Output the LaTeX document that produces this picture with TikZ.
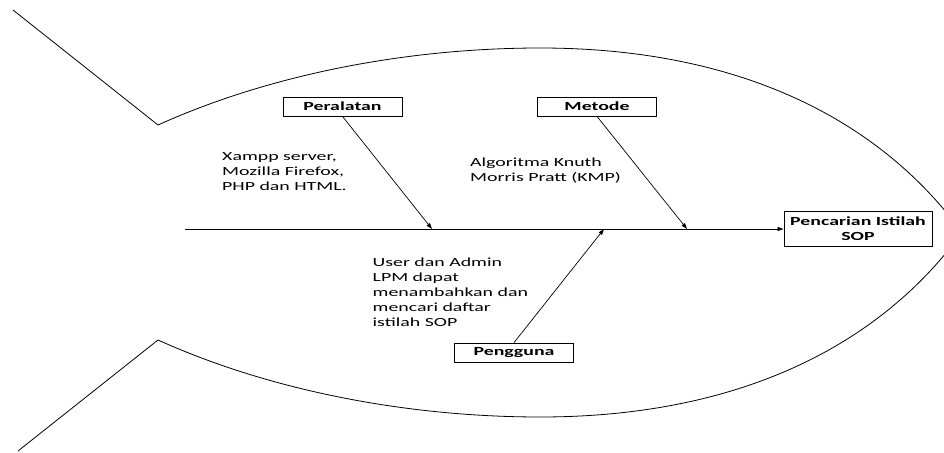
\documentclass[tikz,border=0pt]{standalone}
\usepackage{fontspec}
\setmainfont{Carlito}[FakeStretch=1.6]
\usetikzlibrary{arrows.meta}
\begin{document}
\begin{tikzpicture}[x=1pt,y=-1pt,
  every node/.style={font=\fontsize{12.4}{15}\selectfont},
  catbox/.style={draw, line width=0.8pt, minimum width=119pt, minimum height=19pt, inner sep=0pt, font=\fontsize{12.4}{15}\selectfont\bfseries},
  bone/.style={line width=0.7pt, -{Triangle[length=6pt,width=4pt]}},
  outline/.style={line width=0.8pt},
  note/.style={anchor=base west, inner sep=0pt}
]
\useasboundingbox (0,0) rectangle (944,452);
% fish outline
\draw[outline] (13,10) -- (158,125)
  .. controls (280,70) and (420,48) .. (540,48)
  .. controls (740,48) and (880,120) .. (962,232.5)
  .. controls (880,345) and (740,417) .. (540,417)
  .. controls (420,417) and (280,395) .. (158,340) -- (18,451);
% category boxes
\node[catbox] (per) at (342.5,106.5) {Peralatan};
\node[catbox] (met) at (597,106.5) {Metode};
\node[catbox] (pen) at (514,352.5) {Pengguna};
\node[catbox, minimum width=148pt, minimum height=35pt, align=center] (res) at (858,229) {Pencarian Istilah\\SOP};
% notes
\node[note] (t1) at (222,160) {\begin{tabular}[t]{@{}l@{}}Xampp server,\\ Mozilla Firefox,\\ PHP dan HTML.\end{tabular}};
\node[note] (t2) at (470,166) {\begin{tabular}[t]{@{}l@{}}Algoritma Knuth\\ Morris Pratt (KMP)\end{tabular}};
\node[note] (t3) at (372.5,266.5) {\begin{tabular}[t]{@{}l@{}}User dan Admin\\ LPM dapat\\ menambahkan dan\\ mencari daftar\\ istilah SOP\end{tabular}};
% spine and bones
\coordinate (spineS) at (185,229);
\coordinate (j1) at (432,229);
\coordinate (j2) at (687,229);
\coordinate (j3) at (604,229);
\draw[bone] (spineS) -- (res.west);
\draw[bone] (per.south) -- (j1);
\draw[bone] (met.south) -- (j2);
\draw[bone] (pen.north) -- (j3);
\end{tikzpicture}
\end{document}
